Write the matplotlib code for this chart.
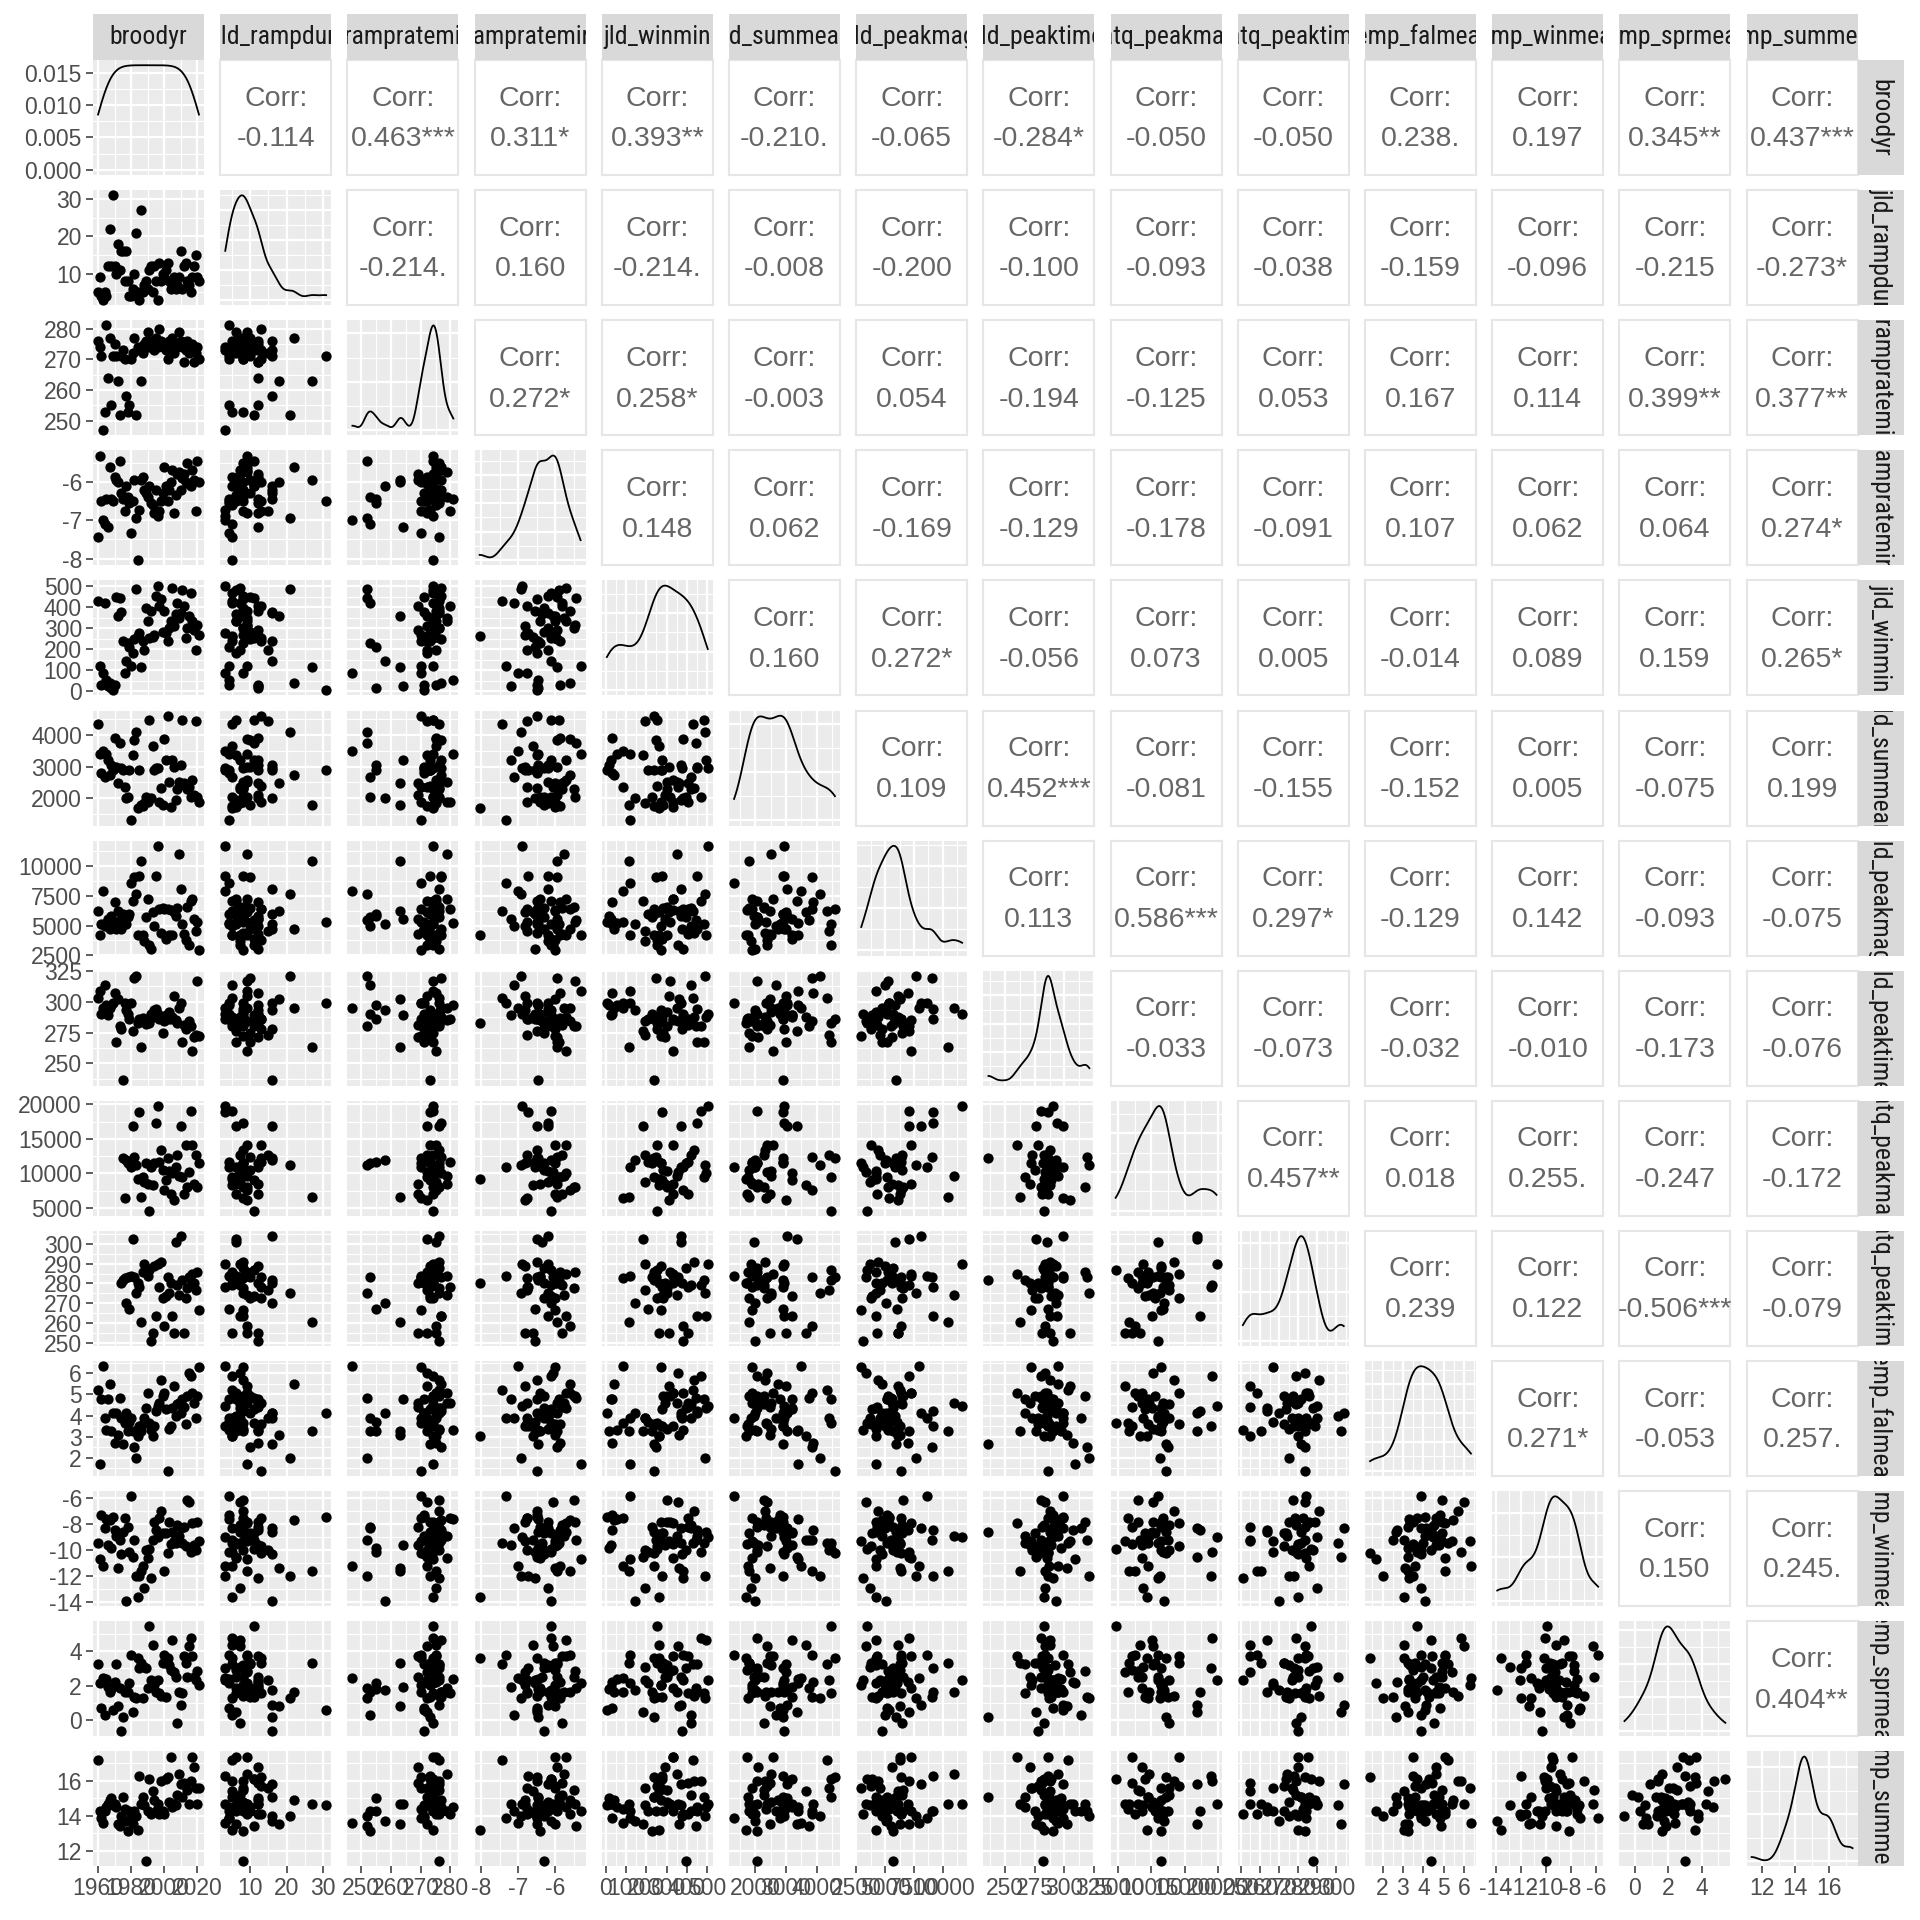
import numpy as np
import matplotlib
matplotlib.use("Agg")
import matplotlib.pyplot as plt
from matplotlib import font_manager as fm
from matplotlib.ticker import MaxNLocator

nan = np.nan

# variable names as shown in the strips
names = ["broodyr", "jld_rampdur", "drampratemin", "rampratemin", "jld_winmin",
         "jld_summean", "jld_peakmag", "jld_peaktime", "latq_peakmag",
         "latq_peaktime", "temp_falmean", "temp_winmean", "temp_sprmean",
         "temp_summean"]

broodyr = list(range(1960, 2022))

jld_rampdur = [5, 9, 4, 3, 5, 4, 12, 22, 12, 31,
               12, 10, 18, 11, 16, 16, 8, 16, 8, 4,
               4, 6, 10, 21, 5, 3, 27, 5, 7, 8,
               6, 11, 12, 5, 12, 8, 3, 13, 8, 10,
               9, 11, 13, 8, 6, 7, 9, 6, 7, 9,
               16, 6, 12, 13, 8, 7, 5, 9, 12, 15,
               9, 8]

drampratemin = [276, 274, 271, 247, 253, 281, 264, 277, 255, 271,
                275, 271, 263, 252, 271, 273, 270, 258, 253, 255,
                270, 272, 277, 252, 274, 273, 263, 272, 275, 276,
                279, 274, 276, 275, 273, 277, 274, 280, 276, 274,
                275, 273, 270, 276, 274, 277, 272, 275, 274, 279,
                276, 274, 269, 273, 276, 272, 274, 275, 269, 272,
                274, 270]

rampratemin = [-7.44, -5.31, -6.5, -7.0, -7.1, -6.45, -7.18, -5.6, -6.45, -6.5,
               -5.87, -5.96, -6.0, -5.44, -6.3, -6.45, -6.75, -6.1, -6.4, -6.55,
               -7.32, -6.5, -5.94, -6.93, -8.04, -6.72, -5.95, -5.87, -6.2, -6.3,
               -6.4, -6.1, -6.55, -6.6, -6.8, -6.2, -6.9, -6.75, -6.5, -6.3,
               -5.6, -6.1, -6.5, -6.2, -6.0, -5.7, -6.8, -6.35, -5.8, -5.75,
               -6.2, -5.9, -5.8, -6.0, -5.5, -6.05, -6.1, -5.7, -5.95, -6.75,
               -5.45, -6.0]

jld_winmin = [430, 120, 32, 87, 420, 55, 24, 40, 16, 5,
              30, 450, 360, 445, 375, 238, 87, 143, 230, 210,
              119, 183, 250, 487, 262, 278, 114, 240, 195, 397,
              333, 254, 380, 260, 270, 452, 503, 405, 437, 280,
              381, 278, 238, 300, 333, 492, 310, 370, 420, 350,
              373, 484, 405, 254, 300, 357, 468, 333, 290, 195,
              317, 270]

jld_summean = [4340, 3400, 2810, 3500, 2680, 3400, 3200, 2750, 3050, 2900,
               3900, 3000, 2470, 3740, 2950, 2900, 2350, 2000, 2050, 2900,
               1310, 3370, 3840, 4100, 1700, 2900, 1800, 1750, 1850, 2050,
               1900, 4470, 2000, 3650, 2900, 2950, 2950, 1900, 2320, 1790,
               3860, 3200, 4600, 2530, 1740, 3200, 3000, 1950, 2300, 2500,
               3050, 4470, 2470, 2400, 2300, 2370, 2050, 2580, 2100, 4420,
               2050, 1900]

jld_peakmag = [6250, 4220, 5140, 7920, 5000, 5200, 5560, 4700, 5830, 5300,
               6940, 4720, 6250, 5500, 4720, 5970, 5300, 5100, 5700, 6000,
               8600, 7080, 9030, 7640, 4170, 9170, 10420, 4170, 3700, 5700,
               7220, 3400, 3060, 6110, 5000, 9170, 11670, 6400, 4400, 6450,
               6350, 3890, 6400, 4170, 6300, 4170, 6110, 5830, 6450, 10970,
               8060, 5140, 4300, 3750, 6530, 3330, 7080, 7220, 5560, 4580,
               5280, 2920]

jld_peaktime = [303, 309, 290, 295, 314, 297, 289, 295, 297, 299,
                307, 267, 302, 280, 278, 236, 299, 293, 290, 286,
                299, 276, 319, 321, 283, 286, 263, 287, 284, 282,
                285, 283, 290, 288, 293, 294, 290, 286, 288, 275,
                284, 289, 286, 292, 286, 288, 305, 285, 283, 295,
                299, 267, 281, 278, 280, 284, 280, 260, 271, 273,
                317, 272]

latq_peakmag = [nan] * 15 + [
    12200, 6440, 11950, 11460, 11700,
    10980, 16830, 12440, 11220, 9270, 18880, 6580, 9510, 8800, 11460,
    8540, 4630, 11000, 8290, 11460, 17320, 19760, 11700, 13410, 10490,
    7560, 9030, 12200, 10300, 7070, 10100, 6100, 10980, 12680, 9700,
    16830, 9510, 7070, 14150, 8000, 10200, 19020, 14150, 8540, 12680,
    8050, 11460]

latq_peaktime = [nan] * 14 + [
    280, 281.8, 282.6, 270, 283.4, 267,
    284, 302.5, 283.4, 275, 280, 278, 260.7, 286, 290, 288,
    284, 286.7, 251, 255, 289, 263.5, 290, 278.4, 291, 272.6,
    258.5, 273.5, 283.4, 275, 280, 263.5, 255, 300.8, 279, 274,
    304, 281.8, 255, 272.6, 277.6, 283.4, 279, 285, 280, 276.8,
    286, 266.8]

temp_falmean = [5.19, 1.7, 4.8, 6.33, 3.9, 3.3, 4.76, 5.47, 3.27, 4.1,
                2.72, 4.1, 3.1, 4.84, 3.9, 2.65, 3.67, 4.1, 3.27, 3.7,
                3.9, 3.27, 2.5, 2.0, 3.04, 3.5, 3.27, 3.6, 3.9, 4.37,
                5.08, 3.67, 3.3, 3.04, 3.5, 4.2, 4.45, 4.6, 5.7, 4.9,
                5.08, 4.3, 1.39, 3.35, 3.5, 4.37, 5.4, 4.0, 4.53, 4.6,
                4.14, 4.76, 4.4, 3.6, 4.92, 6.0, 5.86, 5.08, 4.6, 3.9,
                4.92, 6.3]

temp_winmean = [-9.45, -10.7, -7.3, -11.2, -8.3, -7.55, -9.6, -7.7, -9.8, -7.4,
                -8.4, -8.9, -11.4, -9.2, -10.3, -8.6, -7.5, -13.9, -8.2, -10.1,
                -5.84, -10.5, -9.2, -12.0, -13.6, -12.0, -11.6, -11.2, -12.9, -10.0,
                -10.6, -9.9, -12.1, -9.2, -7.8, -8.4, -9.0, -7.5, -7.0, -8.7,
                -11.6, -8.7, -10.2, -7.8, -9.5, -8.56, -9.3, -9.45, -8.05, -8.9,
                -8.3, -9.45, -8.2, -9.7, -6.14, -6.27, -10.1, -7.9, -9.6, -10.0,
                -7.8, -9.3]

temp_sprmean = [3.24, 2.14, 0.68, 2.43, 0.3, 2.4, 1.94, 1.65, 1.8, 0.6,
                2.2, 3.24, 0.8, 1.85, -0.63, 0.2, 1.65, 1.75, 1.6, 2.14,
                3.78, 0.49, 1.36, 1.3, 3.6, 3.0, 3.3, 1.26, 3.1, 3.0,
                1.85, 5.42, 2.33, 4.36, 2.04, 1.65, 2.33, 1.55, 1.4, 3.3,
                3.78, 1.36, 3.59, 3.2, 2.9, 4.65, 2.8, 2.5, -0.19, 1.65,
                0.88, 1.55, 3.68, 3.3, 2.5, 4.26, 4.75, 3.68, 2.5, 2.3,
                2.85, 2.04]

temp_summean = [17.2, 14.3, 13.9, 13.6, 14.3, 14.5, 14.7, 14.9, 15.0, 14.6,
                14.7, 14.5, 13.5, 13.4, 14.0, 15.05, 14.4, 13.7, 13.1, 14.3,
                13.9, 13.5, 14.3, 14.0, 13.2, 16.3, 14.7, 15.05, 14.6, 11.4,
                14.3, 16.1, 14.1, 15.4, 14.9, 14.3, 14.7, 14.1, 16.0, 14.3,
                14.1, 16.1, 16.2, 14.8, 17.4, 14.5, 14.7, 14.6, 15.2, 16.4,
                15.8, 15.05, 15.9, 15.7, 15.5, 14.7, 16.0, 17.4, 16.8, 15.6,
                14.7, 15.6]

# axis breaks per variable
ticks = [[1960, 1980, 2000, 2020], [10, 20, 30], [250, 260, 270, 280],
         [-8, -7, -6], [0, 100, 200, 300, 400, 500], [2000, 3000, 4000],
         [2500, 5000, 7500, 10000], [250, 275, 300, 325],
         [5000, 10000, 15000, 20000], [250, 260, 270, 280, 290, 300],
         [2, 3, 4, 5, 6], [-14, -12, -10, -8, -6], [0, 2, 4], [12, 14, 16]]
dens_ticks = [0.0, 0.005, 0.010, 0.015]
dens_labels = ["0.000", "0.005", "0.010", "0.015"]

# correlation labels of the upper triangle, row by row
corr = [
    ["-0.114", "0.463***", "0.311*", "0.393**", "-0.210.", "-0.065", "-0.284*",
     "-0.050", "-0.050", "0.238.", "0.197", "0.345**", "0.437***"],
    ["-0.214.", "0.160", "-0.214.", "-0.008", "-0.200", "-0.100", "-0.093",
     "-0.038", "-0.159", "-0.096", "-0.215", "-0.273*"],
    ["0.272*", "0.258*", "-0.003", "0.054", "-0.194", "-0.125", "0.053",
     "0.167", "0.114", "0.399**", "0.377**"],
    ["0.148", "0.062", "-0.169", "-0.129", "-0.178", "-0.091", "0.107",
     "0.062", "0.064", "0.274*"],
    ["0.160", "0.272*", "-0.056", "0.073", "0.005", "-0.014", "0.089",
     "0.159", "0.265*"],
    ["0.109", "0.452***", "-0.081", "-0.155", "-0.152", "0.005", "-0.075", "0.199"],
    ["0.113", "0.586***", "0.297*", "-0.129", "0.142", "-0.093", "-0.075"],
    ["-0.033", "-0.073", "-0.032", "-0.010", "-0.173", "-0.076"],
    ["0.457**", "0.018", "0.255.", "-0.247", "-0.172"],
    ["0.239", "0.122", "-0.506***", "-0.079"],
    ["0.271*", "-0.053", "0.257."],
    ["0.150", "0.245."],
    ["0.404**"],
]

data = [np.array(v, dtype=float) for v in
        [broodyr, jld_rampdur, drampratemin, rampratemin, jld_winmin,
         jld_summean, jld_peakmag, jld_peaktime, latq_peakmag, latq_peaktime,
         temp_falmean, temp_winmean, temp_sprmean, temp_summean]]

plt.rcParams['font.family'] = ['Liberation Sans', 'DejaVu Sans']

BG = "#EBEBEB"
STRIP = "#D9D9D9"
N = len(names)
W = H = 1920
L0, PX, PW = 93, 127.2, 111
T0, PY, PH = 60, 130.1, 115
SH = 46


def find_narrow():
    # the strip labels use a condensed face; take whichever one is installed
    regular = [f for f in fm.fontManager.ttflist
               if f.style == "normal" and f.weight in (400, "normal", "regular", "book")]
    for want in ["Liberation Sans Narrow", "Roboto Condensed", "Open Sans Condensed",
                 "Noto Sans Condensed"]:
        for f in regular:
            if f.name == want:
                return f.fname
    for f in regular:
        low = f.fname.lower()
        if ("condensed" in low or "narrow" in low or f.stretch == "condensed") \
                and "mono" not in low and "serif" not in low:
            return f.fname
    return None


def kde(v):
    v = v[~np.isnan(v)]
    n = len(v)
    sd = v.std(ddof=1)
    iqr = np.subtract(*np.percentile(v, [75, 25]))
    bw = 0.9 * min(sd, iqr / 1.34) * n ** -0.2
    xs = np.linspace(v.min(), v.max(), 512)
    ys = np.exp(-0.5 * ((xs[:, None] - v[None, :]) / bw) ** 2).sum(1)
    return xs, ys / (n * bw * np.sqrt(2 * np.pi))


def lims(v):
    lo, hi = np.nanmin(v), np.nanmax(v)
    pad = 0.05 * (hi - lo)
    return lo - pad, hi + pad


def minors(major, lo, hi):
    step = major[1] - major[0]
    ext = [major[0] - step] + list(major) + [major[-1] + step]
    mids = [(a + b) / 2 for a, b in zip(ext[:-1], ext[1:])]
    return [m for m in mids if lo <= m <= hi]


def set_grid(ax, axis, major, lo, hi, labels=None, show=False):
    inside = [t for t in major if lo <= t <= hi]
    if labels is None:
        labels = [f"{t:g}" for t in inside]
    else:
        labels = [lab for t, lab in zip(major, labels) if lo <= t <= hi]
    mn = minors(inside, lo, hi)
    if axis == "x":
        ax.set_xticks(inside)
        ax.set_xticks(mn, minor=True)
        ax.set_xticklabels(labels if show else [])
        ax.set_xlim(lo, hi)
    else:
        ax.set_yticks(inside)
        ax.set_yticks(mn, minor=True)
        ax.set_yticklabels(labels if show else [])
        ax.set_ylim(lo, hi)


def panel_box(i, j):
    x = L0 + j * PX
    y = T0 + i * PY
    return [x / W, 1 - (y + PH) / H, PW / W, PH / H]


fig = plt.figure(figsize=(19.2, 19.2), dpi=100)

for i in range(N):
    for j in range(N):
        ax = fig.add_axes(panel_box(i, j))
        if i < j:
            ax.set_facecolor("white")
            for s in ax.spines.values():
                s.set_color("#E6E6E6")
                s.set_linewidth(1.5)
            ax.set_xticks([])
            ax.set_yticks([])
            ax.text(0.5, 0.665, "Corr:", ha="center", va="center",
                    transform=ax.transAxes, fontsize=20.5, color="#666666")
            ax.text(0.5, 0.31, corr[i][j - i - 1], ha="center", va="center",
                    transform=ax.transAxes, fontsize=20.5, color="#666666")
            continue

        ax.set_facecolor(BG)
        for s in ax.spines.values():
            s.set_visible(False)
        xlo, xhi = lims(data[j])
        set_grid(ax, "x", ticks[j], xlo, xhi, show=(i == N - 1))

        if i == j:
            xs, ys = kde(data[i])
            ax.plot(xs, ys, color="black", lw=1.3)
            top = ys.max()
            ylo, yhi = -0.05 * top, 1.05 * top
            if i == 0:
                set_grid(ax, "y", dens_ticks, ylo, yhi, labels=dens_labels, show=True)
            else:
                dt = MaxNLocator(nbins=4, steps=[1, 2, 2.5, 5, 10]).tick_values(0, top)
                set_grid(ax, "y", list(dt), ylo, yhi)
        else:
            ax.scatter(data[j], data[i], s=55, c="black", linewidths=0, zorder=3)
            ylo, yhi = lims(data[i])
            set_grid(ax, "y", ticks[i], ylo, yhi, show=(j == 0))

        ax.grid(which="major", color="white", lw=1.6)
        ax.grid(which="minor", color="white", lw=0.8)
        ax.set_axisbelow(True)
        ax.tick_params(which="minor", length=0)
        ax.tick_params(which="major", colors="#333333", width=1.1,
                       labelsize=16.5, labelcolor="#4D4D4D", pad=3)
        ax.tick_params(axis="x", which="major", length=5 if i == N - 1 else 0)
        ax.tick_params(axis="y", which="major", length=5 if j == 0 else 0)

# strips on top and right
narrow = find_narrow()
if narrow:
    strip_kw = dict(fontproperties=fm.FontProperties(fname=narrow, size=18.5))
else:
    strip_kw = dict(fontsize=16, family=['Liberation Sans', 'DejaVu Sans'])

for k in range(N):
    x = L0 + k * PX
    sa = fig.add_axes([x / W, 1 - T0 / H, PW / W, SH / H])
    sa.set_facecolor(STRIP)
    sa.set_xticks([])
    sa.set_yticks([])
    for s in sa.spines.values():
        s.set_visible(False)
    sa.text(0.5, 0.5, names[k], ha="center", va="center", color="#1A1A1A",
            transform=sa.transAxes, clip_on=True, **strip_kw)

    y = T0 + k * PY
    rx = L0 + (N - 1) * PX + PW
    ra = fig.add_axes([rx / W, 1 - (y + PH) / H, SH / W, PH / H])
    ra.set_facecolor(STRIP)
    ra.set_xticks([])
    ra.set_yticks([])
    for s in ra.spines.values():
        s.set_visible(False)
    ra.text(0.5, 0.5, names[k], ha="center", va="center", rotation=-90,
            color="#1A1A1A", transform=ra.transAxes, clip_on=True, **strip_kw)

fig.savefig("out.png", dpi=100, facecolor="white")
